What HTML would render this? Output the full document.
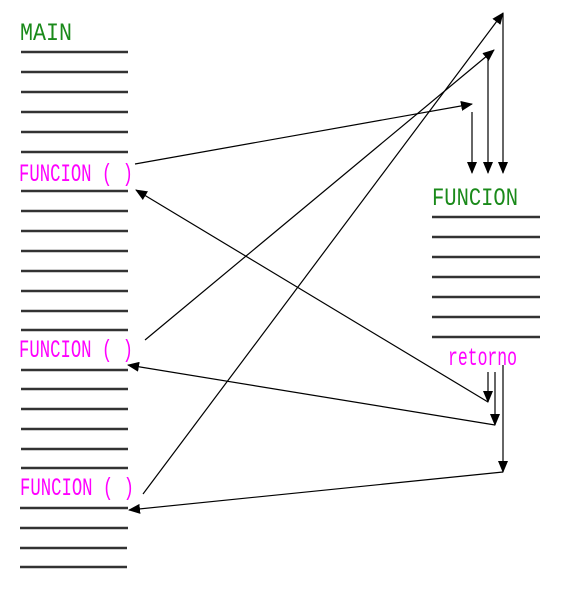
<!DOCTYPE html>
<html><head><style>html,body{margin:0;padding:0;background:#fff}</style></head>
<body>
<svg width="571" height="608" xmlns="http://www.w3.org/2000/svg">
<defs>
<marker id="a" markerWidth="12" markerHeight="10" refX="11" refY="5" orient="auto" markerUnits="userSpaceOnUse">
<path d="M0,0 L12,5 L0,10 z" fill="#000"/></marker>
</defs>
<g font-family="Liberation Mono, monospace" font-size="25">
<text x="20" y="40" fill="#1a8a1a" textLength="52" lengthAdjust="spacingAndGlyphs">MAIN</text>
<text x="19" y="181" fill="#ff00ff" textLength="114" lengthAdjust="spacingAndGlyphs">FUNCION ( )</text>
<text x="19" y="357" fill="#ff00ff" textLength="114" lengthAdjust="spacingAndGlyphs">FUNCION ( )</text>
<text x="20" y="495" fill="#ff00ff" textLength="114" lengthAdjust="spacingAndGlyphs">FUNCION ( )</text>
<text x="432" y="205" fill="#1a8a1a" textLength="86" lengthAdjust="spacingAndGlyphs">FUNCION</text>
<text x="448" y="365" fill="#ff00ff" textLength="69" lengthAdjust="spacingAndGlyphs">retorno</text>
</g>
<g stroke="#333" stroke-width="2.5">
<line x1="21" y1="52" x2="128" y2="52"/><line x1="21" y1="72" x2="128" y2="72"/>
<line x1="21" y1="92" x2="128" y2="92"/><line x1="21" y1="112" x2="128" y2="112"/>
<line x1="21" y1="132" x2="128" y2="132"/><line x1="21" y1="152" x2="128" y2="152"/>
<line x1="21" y1="191" x2="128" y2="191"/><line x1="21" y1="211" x2="128" y2="211"/>
<line x1="21" y1="231" x2="128" y2="231"/><line x1="21" y1="251" x2="128" y2="251"/>
<line x1="21" y1="271" x2="128" y2="271"/><line x1="21" y1="291" x2="128" y2="291"/>
<line x1="21" y1="311" x2="128" y2="311"/><line x1="21" y1="330" x2="128" y2="330"/>
<line x1="21" y1="370" x2="128" y2="370"/><line x1="21" y1="389" x2="128" y2="389"/>
<line x1="21" y1="409" x2="128" y2="409"/><line x1="21" y1="429" x2="128" y2="429"/>
<line x1="21" y1="449" x2="128" y2="449"/><line x1="21" y1="468" x2="128" y2="468"/>
<line x1="20" y1="508" x2="128" y2="508"/><line x1="20" y1="528" x2="128" y2="528"/>
<line x1="20" y1="548" x2="127" y2="548"/><line x1="20" y1="567" x2="127" y2="567"/>
<line x1="432" y1="217" x2="540" y2="217"/><line x1="432" y1="237" x2="540" y2="237"/>
<line x1="432" y1="257" x2="540" y2="257"/><line x1="432" y1="277" x2="540" y2="277"/>
<line x1="432" y1="297" x2="540" y2="297"/><line x1="432" y1="317" x2="540" y2="317"/>
<line x1="432" y1="337" x2="540" y2="337"/>
</g>
<g stroke="#000" stroke-width="1.2" fill="none">
<line x1="135" y1="164" x2="472" y2="104" marker-end="url(#a)"/>
<line x1="472" y1="112" x2="472" y2="173" marker-end="url(#a)"/>
<line x1="145" y1="340" x2="494" y2="50" marker-end="url(#a)"/>
<line x1="488" y1="57" x2="488" y2="173" marker-end="url(#a)"/>
<line x1="143" y1="494" x2="503" y2="13" marker-end="url(#a)"/>
<line x1="503" y1="13" x2="503" y2="173" marker-end="url(#a)"/>
<line x1="488" y1="372" x2="488" y2="402" marker-end="url(#a)"/>
<line x1="488" y1="402" x2="136" y2="190" marker-end="url(#a)"/>
<line x1="495" y1="372" x2="495" y2="425" marker-end="url(#a)"/>
<line x1="495" y1="425" x2="128" y2="365" marker-end="url(#a)"/>
<line x1="503" y1="365" x2="503" y2="472" marker-end="url(#a)"/>
<line x1="503" y1="472" x2="129" y2="510" marker-end="url(#a)"/>
</g>
</svg>
</body></html>
